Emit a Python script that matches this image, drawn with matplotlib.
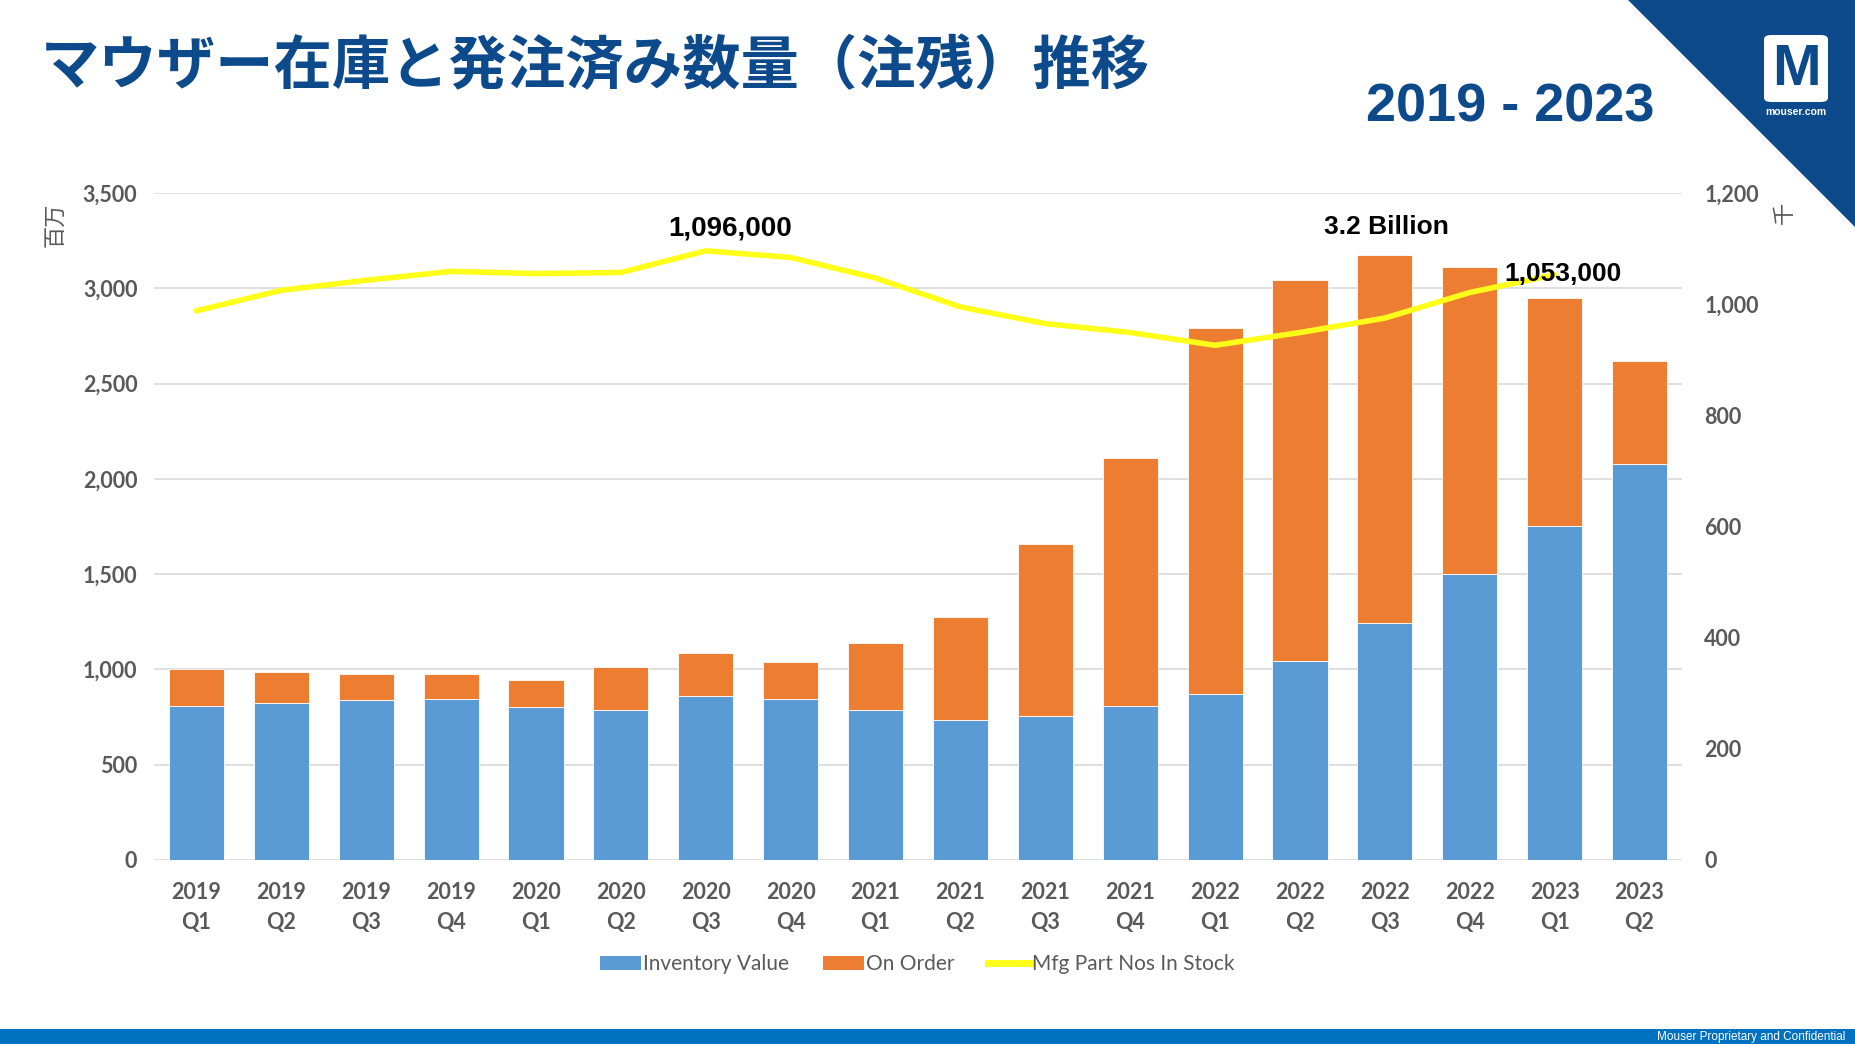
import matplotlib
matplotlib.use("Agg")
import matplotlib.pyplot as plt
from matplotlib.patches import Polygon, FancyBboxPatch, Rectangle, Patch
from matplotlib.lines import Line2D
from matplotlib.ticker import FuncFormatter, MultipleLocator

years = ["2019", "2019", "2019", "2019", "2020", "2020", "2020", "2020",
         "2021", "2021", "2021", "2021", "2022", "2022", "2022", "2022",
         "2023", "2023"]
quarters = ["Q1", "Q2", "Q3", "Q4"] * 4 + ["Q1", "Q2"]
categories = [f"{y}\n{q}" for y, q in zip(years, quarters)]

inventory_value = [806, 822, 839, 843, 801, 787, 862, 843, 787, 733,
                   754, 806, 869, 1042, 1242, 1499, 1755, 2080]
total_value = [1000, 984, 977, 977, 946, 1012, 1087, 1040, 1139, 1274,
               1659, 2108, 2792, 3043, 3177, 3111, 2947, 2619]
on_order = [t - i for t, i in zip(total_value, inventory_value)]

part_nos_k = [988, 1025, 1043, 1059, 1055, 1057, 1096, 1084, 1047, 995,
              965, 949, 926, 949, 975, 1021, 1053]

title = "マウザー在庫と発注済み数量（注残）推移"
subtitle = "2019 - 2023"
legend_labels = ["Inventory Value", "On Order", "Mfg Part Nos In Stock"]

BLUE = "#5B9BD5"
ORANGE = "#ED7D31"
YELLOW = "#FFFF1A"
GRAY = "#595959"
NAVY = "#0D4A8C"

W, H = 1855, 1044
fig = plt.figure(figsize=(W / 100, H / 100), dpi=100)

left, right, top, bottom = 154, 1682, 193, 860
ax = fig.add_axes([left / W, 1 - bottom / H, (right - left) / W, (bottom - top) / H])
x = list(range(len(categories)))
ax.bar(x, inventory_value, width=0.65, color=BLUE, edgecolor="white", linewidth=0.6, zorder=2)
ax.bar(x, on_order, bottom=inventory_value, width=0.65, color=ORANGE,
       edgecolor="white", linewidth=0.6, zorder=2)
ax.set_xlim(-0.5, len(categories) - 0.5)
ax.set_ylim(0, 3500)
ax.yaxis.set_major_locator(MultipleLocator(500))
ax.yaxis.set_major_formatter(FuncFormatter(lambda v, p: f"{int(v):,}"))
ax.grid(axis="y", color="#D9D9D9", linewidth=1.2, zorder=0)
ax.set_axisbelow(True)
for s in ax.spines.values():
    s.set_visible(False)
ax.set_xticks(x)
ax.set_xticklabels(categories, linespacing=1.5)
ax.tick_params(axis="both", length=0, labelcolor=GRAY, labelsize=15.5)
ax.tick_params(axis="y", pad=12)
ax.tick_params(axis="x", pad=16)
for lbl in ax.get_xticklabels() + ax.get_yticklabels():
    lbl.set_fontfamily("Lato")
    lbl.set_fontweight("bold")

ax2 = ax.twinx()
ax2.plot(range(len(part_nos_k)), part_nos_k, color=YELLOW, linewidth=4, solid_capstyle="round", zorder=3)
ax2.set_ylim(0, 1200)
ax2.yaxis.set_major_locator(MultipleLocator(200))
ax2.yaxis.set_major_formatter(FuncFormatter(lambda v, p: f"{int(v):,}"))
for s in ax2.spines.values():
    s.set_visible(False)
ax2.tick_params(axis="y", length=0, labelcolor=GRAY, labelsize=15.5, pad=16)
for lbl in ax2.get_yticklabels():
    lbl.set_fontfamily("Lato")
    lbl.set_fontweight("bold")

# annotations
ax2.text(6.29, 1137, "1,096,000", ha="center", va="center", fontsize=20,
         fontweight="bold", family="Liberation Sans", color="black", zorder=5)
ax.text(14.02, 3322, "3.2 Billion", ha="center", va="center", fontsize=19,
        fontweight="bold", family="Liberation Sans", color="black", zorder=5)
ax2.text(16.1, 1054, "1,053,000", ha="center", va="center", fontsize=19,
         fontweight="bold", family="Liberation Sans", color="black", zorder=5)

# axis unit labels
fig.text(55 / W, 1 - 225 / H, "百万", rotation=90, ha="center", va="center",
         fontsize=16, color=GRAY, family=["Noto Sans CJK JP", "DejaVu Sans"])
fig.text(1784 / W, 1 - 213 / H, "千", rotation=90, ha="center", va="center",
         fontsize=16, color=GRAY, family=["Noto Sans CJK JP", "DejaVu Sans"])

# legend
handles = [Patch(facecolor=BLUE), Patch(facecolor=ORANGE),
           Line2D([0], [0], color=YELLOW, linewidth=5)]
leg = fig.legend(handles, legend_labels, loc="center", bbox_to_anchor=(917 / W, 1 - 964 / H),
                 ncol=3, frameon=False, handlelength=2.0, handleheight=0.65,
                 handletextpad=0.1, columnspacing=1.6,
                 prop={"family": "Lato", "size": 15})
for t in leg.get_texts():
    t.set_color(GRAY)

# title
fig.text(41 / W, 1 - 67 / H, title, ha="left", va="center", fontsize=42, fontweight="bold",
         color=NAVY, family=["Noto Sans CJK JP", "DejaVu Sans"])
fig.text(1510 / W, 1 - 107 / H, subtitle, ha="center", va="center", fontsize=39,
         fontweight="bold", color=NAVY, family="Liberation Sans")

# top-right triangle + logo
tri = Polygon([[1628 / W, 1], [1, 1], [1, 1 - 227 / H]], closed=True,
              transform=fig.transFigure, facecolor=NAVY, edgecolor="none")
fig.patches.append(tri)
logo = FancyBboxPatch((1764 / W, 1 - 102 / H), 64 / W, 67 / H,
                      boxstyle="round,pad=0,rounding_size=0.004",
                      transform=fig.transFigure, facecolor="white", edgecolor="none")
fig.patches.append(logo)
fig.text(1796 / W, 1 - 70 / H, "M", ha="center", va="center", fontsize=42,
         fontweight="bold", color=NAVY, family="Liberation Sans")
fig.text(1796 / W, 1 - 112 / H, "mouser.com", ha="center", va="center", fontsize=7.5,
         fontweight="bold", color="white", family="Liberation Sans")

# bottom bar
bar = Rectangle((0, 0), 1, 15 / H, transform=fig.transFigure, facecolor="#0070C0", edgecolor="none")
fig.patches.append(bar)
fig.text(1845 / W, 7 / H, "Mouser Proprietary and Confidential", ha="right", va="center",
         fontsize=8.5, color="white", family="Liberation Sans")

fig.savefig("out.png", dpi=100)
